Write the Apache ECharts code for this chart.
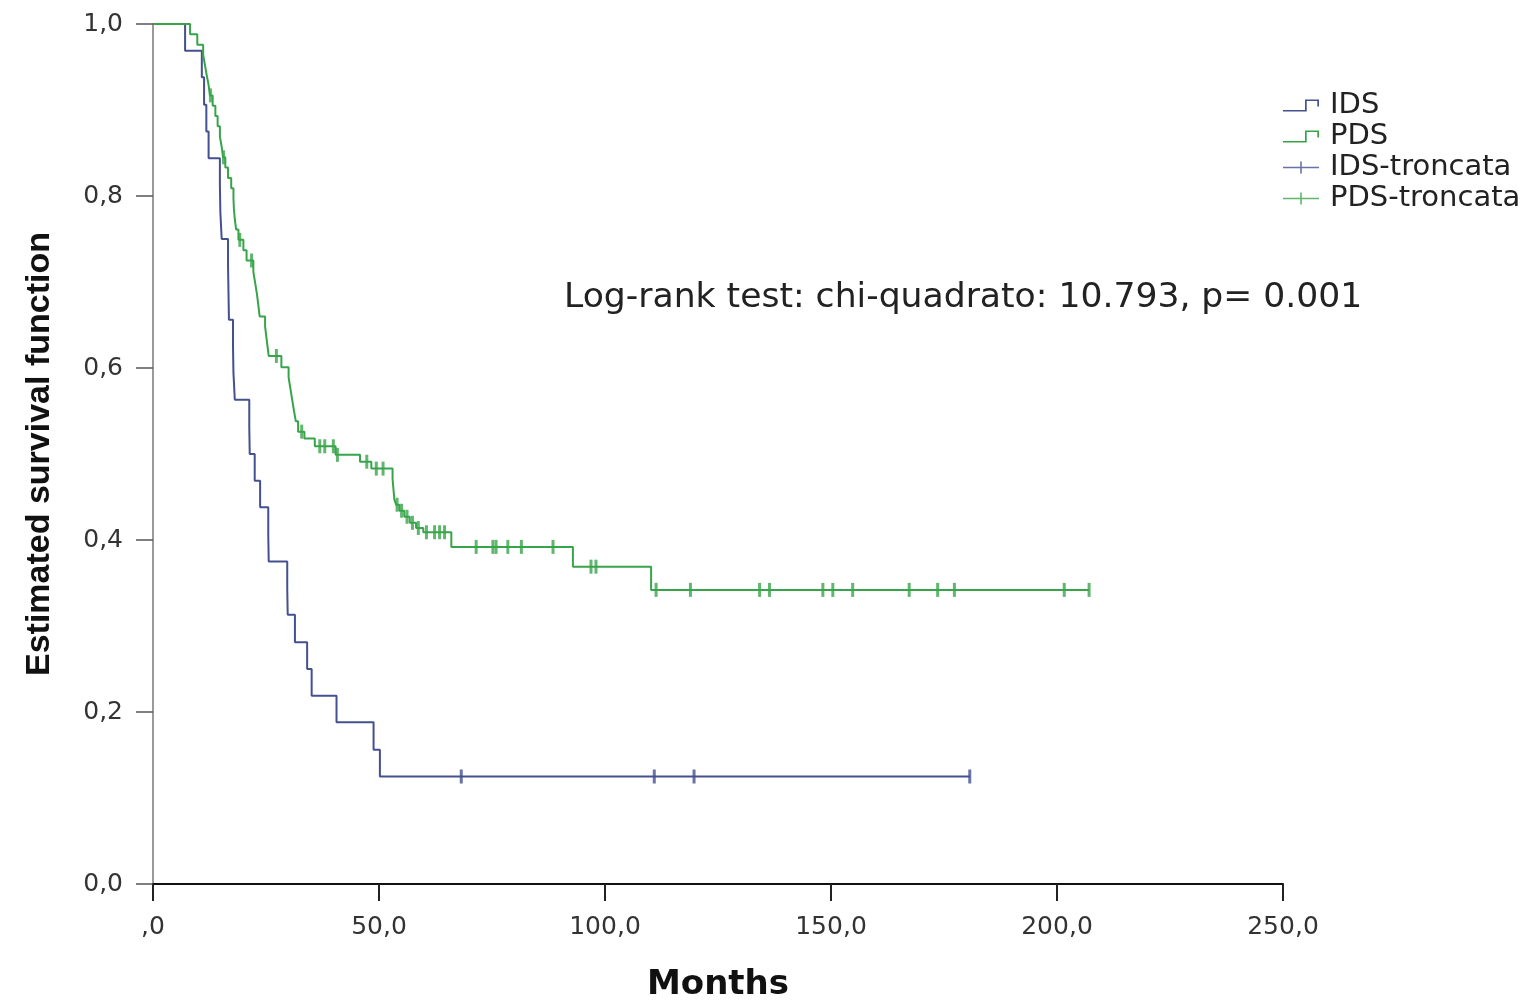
<!DOCTYPE html>
<html>
<head>
<meta charset="utf-8">
<script src="https://cdn.jsdelivr.net/npm/echarts@6/dist/echarts.min.js"></script>
<style>html,body{margin:0;padding:0;background:#fff}#c{width:1539px;height:1007px}</style>
</head>
<body>
<div id="c"></div>
<script>
// ---- data (months, estimated survival) ----
const idsTime = [0, 7.1, 10.8, 11.3, 11.8, 12.3, 14.8, 14.9, 15.2, 16.6, 16.7, 16.8, 17.7, 17.8, 18.1, 21.3, 21.4, 22.5, 23.7, 25.5, 25.6, 29.7, 29.8, 31.4, 34.1, 35.1, 40.6, 48.8, 50.2, 180.7];
const idsSurv = [1.0, 0.969, 0.938, 0.906, 0.875, 0.844, 0.813, 0.781, 0.750, 0.719, 0.688, 0.656, 0.625, 0.594, 0.563, 0.531, 0.500, 0.469, 0.438, 0.406, 0.375, 0.344, 0.313, 0.281, 0.250, 0.219, 0.188, 0.156, 0.125, 0.125];
const idsCensorTime = [68.2, 110.9, 119.7, 180.7];
const idsCensorSurv = [0.125, 0.125, 0.125, 0.125];

const pdsTime = [0, 8.2, 9.8, 11.1, 11.5, 11.9, 12.3, 12.6, 13.2, 13.8, 14.3, 14.8, 15.2, 15.5, 16.0, 16.6, 17.3, 17.8, 17.9, 18.1, 18.4, 18.9, 20.0, 20.7, 22.2, 22.6, 23.0, 23.3, 23.6, 24.8, 25.2, 25.6, 28.4, 30.0, 30.4, 30.8, 31.2, 31.6, 32.1, 33.5, 35.8, 40.4, 45.8, 48.3, 53.0, 53.2, 53.4, 53.8, 54.5, 55.6, 56.8, 58.2, 59.8, 66.0, 92.9, 110.2, 207.1];
const pdsSurv = [1.0, 0.988, 0.976, 0.964, 0.952, 0.940, 0.929, 0.917, 0.905, 0.893, 0.881, 0.869, 0.857, 0.845, 0.833, 0.821, 0.809, 0.797, 0.785, 0.773, 0.761, 0.749, 0.737, 0.725, 0.712, 0.699, 0.686, 0.673, 0.660, 0.648, 0.631, 0.614, 0.601, 0.589, 0.576, 0.563, 0.550, 0.538, 0.526, 0.518, 0.509, 0.499, 0.491, 0.483, 0.471, 0.459, 0.447, 0.441, 0.434, 0.427, 0.420, 0.414, 0.409, 0.392, 0.369, 0.342, 0.342];
const pdsCensorTime = [12.7, 15.6, 19.2, 21.8, 27.3, 32.9, 36.9, 38.0, 39.9, 40.8, 47.3, 49.4, 50.9, 54.0, 55.0, 56.2, 57.4, 58.7, 60.5, 62.3, 63.4, 64.5, 71.5, 75.2, 75.9, 78.5, 81.5, 88.5, 96.9, 98.0, 111.3, 118.9, 134.2, 136.4, 148.2, 150.4, 154.8, 167.3, 173.6, 177.3, 201.6, 207.1];
const pdsCensorSurv = [0.917, 0.845, 0.749, 0.725, 0.614, 0.526, 0.509, 0.509, 0.509, 0.499, 0.491, 0.483, 0.483, 0.441, 0.434, 0.427, 0.420, 0.414, 0.409, 0.409, 0.409, 0.409, 0.392, 0.392, 0.392, 0.392, 0.392, 0.392, 0.369, 0.369, 0.342, 0.342, 0.342, 0.342, 0.342, 0.342, 0.342, 0.342, 0.342, 0.342, 0.342, 0.342];

const xTickLabels = [',0', '50,0', '100,0', '150,0', '200,0', '250,0'];
const yTickLabels = ['0,0', '0,2', '0,4', '0,6', '0,8', '1,0'];
const seriesNames = ['IDS', 'PDS', 'IDS-troncata', 'PDS-troncata'];
const annotation = 'Log-rank test: chi-quadrato: 10.793, p= 0.001';

// ---- build ----
const zip = (a, b) => a.map((v, i) => [v, b[i]]);
const IDS_COLOR = '#44508f';
const PDS_COLOR = '#38a44a';
const stepIcon = 'path://M0,10.5 L22,10.5 L22,0 L36,0 L36,7 L34.3,7 L34.3,1.7 L23.7,1.7 L23.7,12.2 L0,12.2 Z';
const crossIcon = 'path://M0,5.3 L17.2,5.3 L17.2,0 L18.8,0 L18.8,5.3 L36,5.3 L36,6.9 L18.8,6.9 L18.8,12.2 L17.2,12.2 L17.2,6.9 L0,6.9 Z';

const chart = echarts.init(document.getElementById('c'), null, {renderer: 'canvas'});
chart.setOption({
  animation: false,
  backgroundColor: '#fff',
  grid: {left: 153, right: 256, top: 24, bottom: 113, containLabel: false},
  legend: {
    orient: 'vertical', left: 1283, top: 91, padding: 0,
    itemWidth: 36, itemHeight: 12.2, itemGap: 2,
    textStyle: {fontFamily: 'DejaVu Sans', fontSize: 29, color: '#222', padding: [0, 0, 0, 6]},
    data: [
      {name: seriesNames[0], icon: stepIcon},
      {name: seriesNames[1], icon: stepIcon},
      {name: seriesNames[2], icon: crossIcon},
      {name: seriesNames[3], icon: crossIcon}
    ]
  },
  xAxis: {
    type: 'value', min: 0, max: 250, interval: 50,
    name: 'Months', nameLocation: 'middle', nameGap: 84,
    nameTextStyle: {fontFamily: 'DejaVu Sans', fontWeight: 'bold', fontSize: 34, color: '#111'},
    axisLine: {show: true, onZero: false, lineStyle: {color: '#111', width: 2}},
    axisTick: {show: true, length: 17, lineStyle: {color: '#222', width: 2}},
    axisLabel: {margin: 31, fontFamily: 'DejaVu Sans', fontSize: 25, color: '#333',
      formatter: v => xTickLabels[Math.round(v / 50)]},
    splitLine: {show: false}
  },
  yAxis: {
    type: 'value', min: 0, max: 1, interval: 0.2,
    name: 'Estimated survival function', nameLocation: 'middle', nameGap: 96,
    nameTextStyle: {fontFamily: 'Liberation Sans', fontWeight: 'bold', fontSize: 34, color: '#111'},
    axisLine: {show: true, lineStyle: {color: '#9a9a9a', width: 2}},
    axisTick: {show: true, length: 17, lineStyle: {color: '#555', width: 1.5}},
    axisLabel: {margin: 30, fontFamily: 'DejaVu Sans', fontSize: 25, color: '#333',
      formatter: v => yTickLabels[Math.round(v / 0.2)]},
    splitLine: {show: false}
  },
  graphic: [{
    type: 'text', left: 564, top: 281,
    style: {text: annotation, fontFamily: 'DejaVu Sans', fontSize: 34.6, fill: '#222'}
  }],
  series: [
    {name: seriesNames[0], type: 'line', step: 'end', showSymbol: false, data: zip(idsTime, idsSurv),
      color: IDS_COLOR, lineStyle: {color: IDS_COLOR, width: 2}, z: 3},
    {name: seriesNames[1], type: 'line', step: 'end', showSymbol: false, data: zip(pdsTime, pdsSurv),
      color: PDS_COLOR, lineStyle: {color: PDS_COLOR, width: 2}, z: 3},
    {name: seriesNames[2], type: 'scatter', symbol: 'rect', symbolSize: [3, 14],
      data: zip(idsCensorTime, idsCensorSurv), color: IDS_COLOR, itemStyle: {color: IDS_COLOR}, z: 4},
    {name: seriesNames[3], type: 'scatter', symbol: 'rect', symbolSize: [3, 14],
      data: zip(pdsCensorTime, pdsCensorSurv), color: PDS_COLOR, itemStyle: {color: PDS_COLOR}, z: 4}
  ]
});
</script>
</body>
</html>
